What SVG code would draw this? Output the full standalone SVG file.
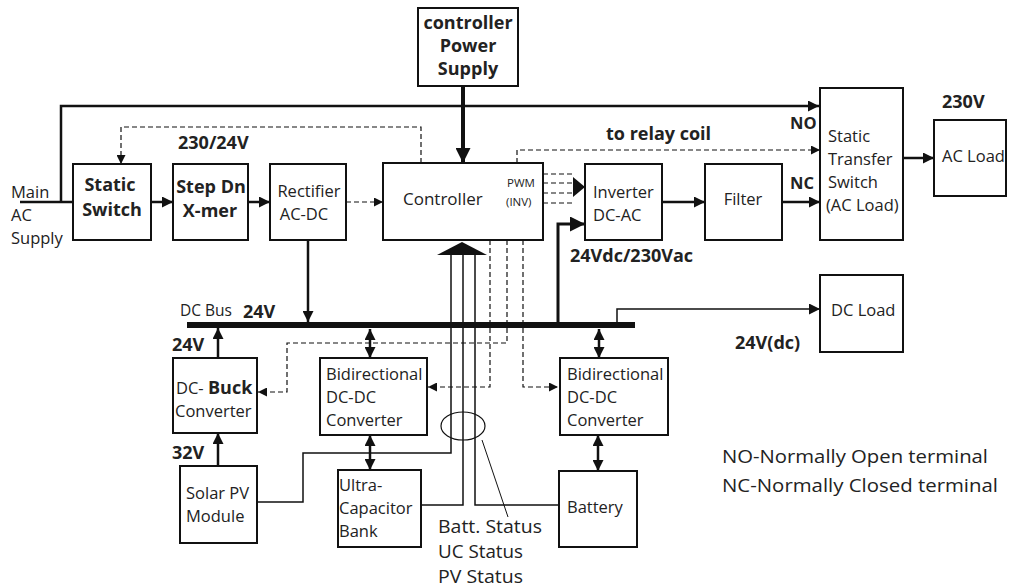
<svg xmlns="http://www.w3.org/2000/svg" width="1009" height="588" viewBox="0 0 1009 588">
<defs>
<style>
text{font-family:"Open Sans","Liberation Sans",sans-serif;fill:#222;font-size:16.5px}
.b{font-weight:bold;font-size:18px}
.box{fill:#fff;stroke:#111;stroke-width:2}
.ln{fill:none;stroke:#111;stroke-width:2.5}
.th{fill:none;stroke:#111;stroke-width:1.5}
.ds{fill:none;stroke:#111;stroke-width:1.2;stroke-dasharray:5 3}
.c{text-anchor:middle}
.sm{font-size:11.5px}
.nn{font-size:17px}
.st{font-size:17.5px}
.lg{font-size:18px}
</style>
<marker id="ah" viewBox="0 0 10 10" refX="10" refY="5" markerWidth="11" markerHeight="11" markerUnits="userSpaceOnUse" orient="auto-start-reverse"><path d="M0,0 L10,5 L0,10 z" fill="#111"/></marker>
<marker id="ahb" viewBox="0 0 10 10" refX="10" refY="5" markerWidth="15" markerHeight="15" markerUnits="userSpaceOnUse" orient="auto"><path d="M0,0 L10,5 L0,10 z" fill="#111"/></marker>
<marker id="ahs" viewBox="0 0 10 10" refX="10" refY="5" markerWidth="9" markerHeight="9" markerUnits="userSpaceOnUse" orient="auto"><path d="M0,0 L10,5 L0,10 z" fill="#111"/></marker>
</defs>
<rect width="1009" height="588" fill="#fff"/>

<g id="connectors">
<path class="ln" d="M20,202 H73"/>
<path class="ln" d="M61,202 V106 H819" marker-end="url(#ah)"/>
<path class="ln" d="M151,202 H173" marker-end="url(#ah)"/>
<path class="ln" d="M248,202 H270" marker-end="url(#ah)"/>
<path class="ds" d="M346,202 H383" marker-end="url(#ahs)"/>
<path class="ds" d="M421,163 V127 H121 V164" marker-end="url(#ahs)"/>
<path fill="none" stroke="#111" stroke-width="4" d="M463,86 V163" marker-end="url(#ahb)"/>
<path class="ds" d="M517,163 V150 H820" marker-end="url(#ahs)"/>
<path class="ds" d="M543,174 H575 M543,183 H575 M543,193 H575 M543,203 H575"/>
<polygon points="573,177 585,187 573,197" fill="#111"/>
<path class="ln" d="M662,202 H705" marker-end="url(#ah)"/>
<path class="ln" d="M782,202 H820" marker-end="url(#ah)"/>
<path class="ln" d="M903,158 H934" marker-end="url(#ah)"/>
<path fill="none" stroke="#111" stroke-width="3" d="M558,325 V224 H585" marker-end="url(#ahb)"/>
<path class="ln" stroke-width="2" d="M308,240 V322" marker-end="url(#ah)"/>
<path class="th" d="M617,323 V309 H820" marker-end="url(#ah)"/>
<path class="ln" stroke-width="2" d="M218,358 V328" marker-end="url(#ah)"/>
<path class="ln" stroke-width="2" d="M370,329 V358" marker-start="url(#ah)" marker-end="url(#ah)"/>
<path class="ln" stroke-width="2" d="M599,329 V358" marker-start="url(#ah)" marker-end="url(#ah)"/>
<path class="ln" stroke-width="2" d="M370,435 V470" marker-start="url(#ah)" marker-end="url(#ah)"/>
<path class="ln" stroke-width="2" d="M598,435 V471" marker-start="url(#ah)" marker-end="url(#ah)"/>
<path class="ln" stroke-width="2" d="M218,466 V433" marker-end="url(#ah)"/>
<path class="th" d="M451,250 V453 H303 V502 H257"/>
<path class="th" d="M463,250 V505 H421"/>
<path class="th" d="M475,250 V505 H559"/>
<polygon points="437,255 487,255 462,242" fill="#111"/>
<ellipse cx="463" cy="426" rx="22" ry="14" fill="none" stroke="#111" stroke-width="1.2"/>
<path fill="none" stroke="#111" stroke-width="1" d="M482,440 L508,517"/>
<path class="ds" d="M490,240 V387 H428" marker-end="url(#ahs)"/>
<path class="ds" d="M507,240 V343 H287 V392 H258" marker-end="url(#ahs)"/>
<path class="ds" d="M523,240 V387 H558" marker-end="url(#ahs)"/>
<rect x="187" y="322" width="448" height="6" fill="#111"/>
</g>

<g id="main-ac"><text x="11" y="198">Main</text><text x="11" y="221">AC</text><text x="11" y="244">Supply</text></g>
<g id="static-switch"><rect class="box" x="73" y="164" width="78" height="76"/><text class="b c" x="110" y="191">Static</text><text class="b c" x="112" y="216">Switch</text></g>
<g id="step-dn"><rect class="box" x="173" y="164" width="75" height="76"/><text class="b c" x="211" y="193">Step Dn</text><text class="b c" x="210" y="217">X-mer</text></g>
<g id="rectifier"><rect class="box" x="270" y="164" width="76" height="76"/><text class="c" x="309" y="197">Rectifier</text><text class="c" x="304" y="220">AC-DC</text></g>
<text class="b" x="178" y="149">230/24V</text>
<g id="controller-ps"><rect class="box" x="418" y="8" width="100" height="78"/><text class="b c" x="468" y="29">controller</text><text class="b c" x="468" y="52">Power</text><text class="b c" x="468" y="75">Supply</text></g>
<g id="controller"><rect class="box" x="383" y="163" width="160" height="77"/><text class="nn" x="403" y="205">Controller</text><text class="sm" x="507" y="187">PWM</text><text class="sm" x="506" y="206">(INV)</text></g>
<text class="b" x="606" y="140">to relay coil</text>
<text class="b" x="790" y="129" style="font-size:16.5px">NO</text>
<text class="b" x="790" y="189" style="font-size:16.5px">NC</text>
<g id="inverter"><rect class="box" x="585" y="164" width="77" height="76"/><text x="593" y="198">Inverter</text><text x="593" y="221">DC-AC</text></g>
<g id="filter"><rect class="box" x="705" y="164" width="77" height="76"/><text class="c" x="743" y="205">Filter</text></g>
<g id="sts"><rect class="box" x="820" y="88" width="83" height="152"/><text x="828" y="142">Static</text><text x="828" y="165">Transfer</text><text x="828" y="188">Switch</text><text x="826" y="211">(AC Load)</text></g>
<text class="b" x="942" y="108">230V</text>
<g id="ac-load"><rect class="box" x="934" y="120" width="72" height="76"/><text x="942" y="162">AC Load</text></g>
<text class="b" x="570" y="262">24Vdc/230Vac</text>
<g id="dc-load"><rect class="box" x="820" y="275" width="83" height="77"/><text x="831" y="316">DC Load</text></g>
<text class="b" x="735" y="349">24V(dc)</text>
<text x="180" y="316" style="font-size:15.5px">DC Bus</text>
<text class="b" x="243" y="318">24V</text>
<text class="b" x="172" y="351">24V</text>
<g id="buck"><rect class="box" x="173" y="358" width="84" height="75"/><text x="176" y="394">DC- <tspan class="b">Buck</tspan></text><text x="175" y="417">Converter</text></g>
<g id="bidir-left"><rect class="box" x="320" y="358" width="107" height="77"/><text x="326" y="380">Bidirectional</text><text x="326" y="403">DC-DC</text><text x="326" y="426">Converter</text></g>
<g id="bidir-right"><rect class="box" x="560" y="358" width="108" height="77"/><text x="567" y="380">Bidirectional</text><text x="567" y="403">DC-DC</text><text x="567" y="426">Converter</text></g>
<text class="b" x="172" y="459">32V</text>
<g id="solar-pv"><rect class="box" x="180" y="466" width="77" height="77"/><text x="186" y="499">Solar PV</text><text x="186" y="522">Module</text></g>
<g id="ultracap"><rect class="box" x="338" y="470" width="83" height="77"/><text x="339" y="491">Ultra-</text><text x="339" y="514">Capacitor</text><text x="339" y="537">Bank</text></g>
<g id="battery"><rect class="box" x="559" y="471" width="78" height="76"/><text x="567" y="513">Battery</text></g>
<g id="status"><text class="st" x="438" y="533" textLength="104" lengthAdjust="spacingAndGlyphs">Batt. Status</text><text class="st" x="438" y="558" textLength="85" lengthAdjust="spacingAndGlyphs">UC Status</text><text class="st" x="438" y="583" textLength="85" lengthAdjust="spacingAndGlyphs">PV Status</text></g>
<g id="legend"><text class="lg" x="722" y="463" textLength="266" lengthAdjust="spacingAndGlyphs">NO-Normally Open terminal</text><text class="lg" x="722" y="492" textLength="276" lengthAdjust="spacingAndGlyphs">NC-Normally Closed terminal</text></g>
</svg>
